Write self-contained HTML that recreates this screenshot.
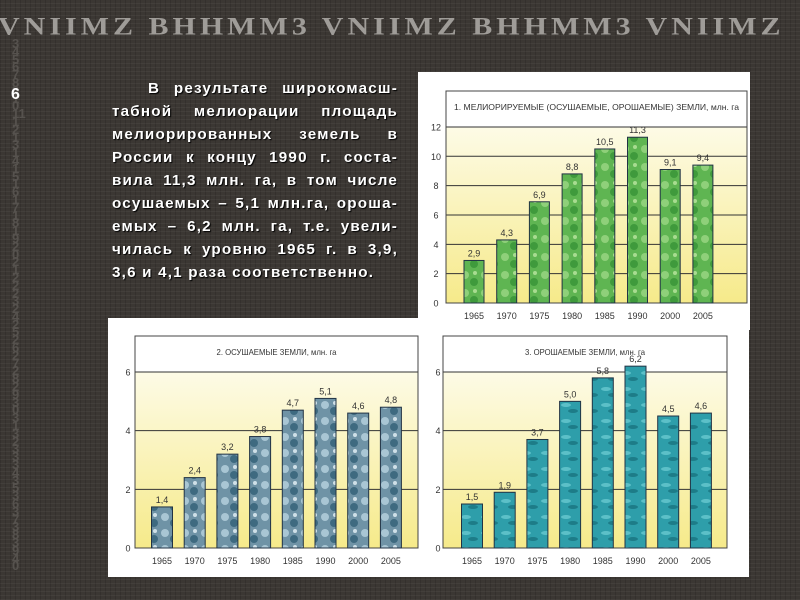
<!DOCTYPE html>
<html><head><meta charset="utf-8">
<style>
html,body{margin:0;padding:0;width:800px;height:600px;overflow:hidden;background:#3b3733;}
body{position:relative;font-family:"Liberation Sans",sans-serif;
background-color:#3b3733;
background-image:repeating-linear-gradient(0deg,rgba(255,255,255,0.04) 0 1px,transparent 1px 4px),repeating-linear-gradient(90deg,rgba(0,0,0,0.12) 0 1px,transparent 1px 5px);}
#banner{position:absolute;left:-2px;top:10px;width:820px;font-family:"Liberation Serif",serif;font-weight:bold;font-size:30px;color:#9f9c98;letter-spacing:4px;white-space:nowrap;transform:scaleY(0.85);}
#nums{position:absolute;left:12px;top:40px;width:14px;font-size:13px;font-weight:bold;color:#56524e;line-height:7.8px;word-break:break-all;}
#six{position:absolute;left:11px;top:86px;color:#fff;font-weight:bold;font-size:16px;}
#txt{position:absolute;left:112px;top:77px;width:286px;color:#fff;font-weight:bold;font-size:15.2px;letter-spacing:1.2px;line-height:23px;text-shadow:1px 1px 1px #000;}
#txt div{text-align:justify;text-align-last:justify;white-space:nowrap;}
#txt div.l{text-align-last:left;}
svg{position:absolute;left:0;top:0;}
</style></head><body>
<div id="banner">VNIIMZ BHHMM3 VNIIMZ BHHMM3 VNIIMZ</div>
<div id="nums">345678910111213141516171819202122232425262728293031323334353637383940</div>
<div id="six">6</div>
<div id="txt">
<div style="padding-left:36px">В результате широкомасш-</div>
<div>табной мелиорации площадь</div>
<div>мелиорированных земель в</div>
<div>России к концу 1990 г. соста-</div>
<div>вила 11,3 млн. га, в том числе</div>
<div>осушаемых – 5,1 млн.га, ороша-</div>
<div>емых – 6,2 млн. га, т.е. увели-</div>
<div>чилась к уровню 1965 г. в 3,9,</div>
<div class="l">3,6 и 4,1 раза соответственно.</div>
</div>
<svg id="s" width="800" height="600" xmlns="http://www.w3.org/2000/svg">
<defs>
<linearGradient id="yb" x1="0" y1="0" x2="0" y2="1">
<stop offset="0" stop-color="#fdfbe6"/><stop offset="1" stop-color="#f6ea8a"/></linearGradient>
<pattern id="pg" width="20" height="18" patternUnits="userSpaceOnUse">
<rect width="20" height="18" fill="#5fb552"/><circle cx="5" cy="5" r="4" fill="#8fd07a"/><circle cx="14" cy="12" r="4" fill="#3f9a3c"/><circle cx="15" cy="3" r="2" fill="#a8dc90"/></pattern>
<pattern id="pb" width="20" height="16" patternUnits="userSpaceOnUse">
<rect width="20" height="16" fill="#6f93a6"/><circle cx="5" cy="5" r="4" fill="#a9c6d4"/><circle cx="14" cy="11" r="4" fill="#3e6a80"/><circle cx="15" cy="3" r="2" fill="#cfe0e8"/></pattern>
<pattern id="pt" width="20" height="16" patternUnits="userSpaceOnUse">
<rect width="20" height="16" fill="#2e9eaa"/><ellipse cx="6" cy="5" rx="5" ry="2" fill="#5cc0c8"/><ellipse cx="13" cy="11" rx="5" ry="2" fill="#1d7c88"/></pattern>
</defs>
<rect x="418" y="72" width="332" height="258" fill="#fff"/>
<rect x="108" y="318" width="641" height="259" fill="#fff"/>
<g id="g"></g>
</svg>
<script>
var g=document.getElementById('g'),ns='http://www.w3.org/2000/svg';
function el(t,a,txt){var e=document.createElementNS(ns,t);for(var k in a)e.setAttribute(k,a[k]);if(txt!=null)e.textContent=txt;g.appendChild(e);return e;}
var yrs=['1965','1970','1975','1980','1985','1990','2000','2005'];
function chart(c){
 var top=c.y0-c.max*c.pu;
 el('rect',{x:c.x1,y:top,width:c.x2-c.x1,height:c.y0-top,fill:'url(#yb)'});
 el('rect',{x:c.x1,y:c.tt,width:c.x2-c.x1,height:top-c.tt,fill:'#fff'});
 for(var v=0;v<=c.max;v+=2){var y=c.y0-v*c.pu;
  el('line',{x1:c.x1,x2:c.x2,y1:y,y2:y,stroke:'#333','stroke-width':1});
  el('text',{x:c.lx,y:y+3.5,'font-size':9,'text-anchor':'middle',fill:'#333'},String(v));}
 el('rect',{x:c.x1,y:c.tt,width:c.x2-c.x1,height:c.y0-c.tt,fill:'none',stroke:'#444','stroke-width':1});
 el('text',{x:(c.x1+c.x2)/2,y:c.tt+19,'font-size':8.5,'text-anchor':'middle',fill:'#333',textLength:c.tl,lengthAdjust:'spacingAndGlyphs'},c.title);
 for(var i=0;i<8;i++){var cx=c.cx0+i*32.7,h=c.v[i]*c.pu;
  el('rect',{x:cx-c.w/2,y:c.y0-h,width:c.w,height:h,fill:c.fill,stroke:'#234',"stroke-width":1});
  el('text',{x:cx,y:c.y0-h-4,'font-size':9,'text-anchor':'middle',fill:'#333'},c.v[i].toFixed(1).replace('.',','));
  el('text',{x:cx,y:c.y0+16,'font-size':9,'text-anchor':'middle',fill:'#333'},yrs[i]);}
}
chart({x1:446,x2:747,tt:91,y0:303,pu:14.67,max:12,lx:436,cx0:474,w:20,fill:'url(#pg)',tl:285,
 title:'1. МЕЛИОРИРУЕМЫЕ (ОСУШАЕМЫЕ, ОРОШАЕМЫЕ) ЗЕМЛИ, млн. га',v:[2.9,4.3,6.9,8.8,10.5,11.3,9.1,9.4]});
chart({x1:135,x2:418,tt:336,y0:548,pu:29.33,max:6,lx:128,cx0:162,w:21,fill:'url(#pb)',tl:120,
 title:'2. ОСУШАЕМЫЕ ЗЕМЛИ, млн. га',v:[1.4,2.4,3.2,3.8,4.7,5.1,4.6,4.8]});
chart({x1:443,x2:727,tt:336,y0:548,pu:29.33,max:6,lx:438,cx0:472,w:21,fill:'url(#pt)',tl:120,
 title:'3. ОРОШАЕМЫЕ ЗЕМЛИ, млн. га',v:[1.5,1.9,3.7,5.0,5.8,6.2,4.5,4.6]});
</script>
</body></html>
